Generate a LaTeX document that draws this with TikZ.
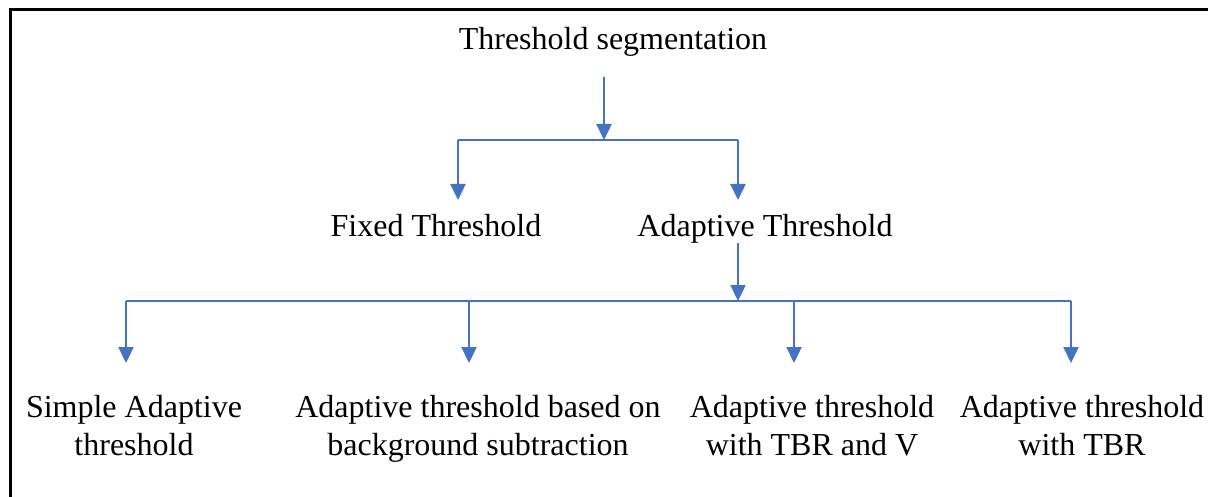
\documentclass[tikz,border=0pt]{standalone}
\usepackage{fontspec}
\setmainfont{Liberation Serif}
\usetikzlibrary{arrows.meta}
\definecolor{flowblue}{HTML}{4472C4}
\tikzset{
  term/.style={font=\fontsize{16}{19}\selectfont, inner sep=0pt, anchor=base, align=center},
  arr/.style={draw=flowblue, line width=1.2pt, -{Triangle[length=8pt,width=7.5pt]}},
  bar/.style={draw=flowblue, line width=0.9pt},
}
\begin{document}
\begin{tikzpicture}[x=0.5pt, y=-0.5pt]
\useasboundingbox (0,0) rectangle (1208,497);
\clip (0,0) rectangle (1208,497);
\draw[line width=1.5pt] (10,10) rectangle (1230,520);

% first split
\node[term] (root) at (613,50) {Threshold segmentation};
\node[term] (fixed) at (436,236) {Fixed Threshold};
\node[term] (adapt) at (765,236) {Adaptive Threshold};
\path (604,77) coordinate (rootout) (604,140) coordinate (fork1);
\path (458,140) coordinate (fixedtop) (458,200) coordinate (fixedtip);
\path (738,140) coordinate (adapttop) (738,200) coordinate (adapttip);
\draw[arr] (rootout) -- (fork1);
\draw[bar] (fixedtop) -- (adapttop);
\draw[arr] (fixedtop) -- (fixedtip);
\draw[arr] (adapttop) -- (adapttip);

% second split
\path (738,243) coordinate (adaptout) (738,301) coordinate (fork2);
\draw[arr] (adaptout) -- (fork2);
\foreach \x/\n in {126/simple, 469/backsub, 794/tbrv, 1071/tbr} {
  \path (\x,301) coordinate (\n-top) (\x,363) coordinate (\n-tip);
  \draw[arr] (\n-top) -- (\n-tip);
}
\draw[bar] (simple-top) -- (tbr-top);

% base is the last line here
\node[term] (simple) at (134,455) {Simple Adaptive\\threshold};
\node[term] (backsub) at (478,455) {Adaptive threshold based on\\background subtraction};
\node[term] (tbrv) at (812,455) {Adaptive threshold\\with TBR and V};
\node[term] (tbr) at (1082,455) {Adaptive threshold\\with TBR};
\end{tikzpicture}
\end{document}
